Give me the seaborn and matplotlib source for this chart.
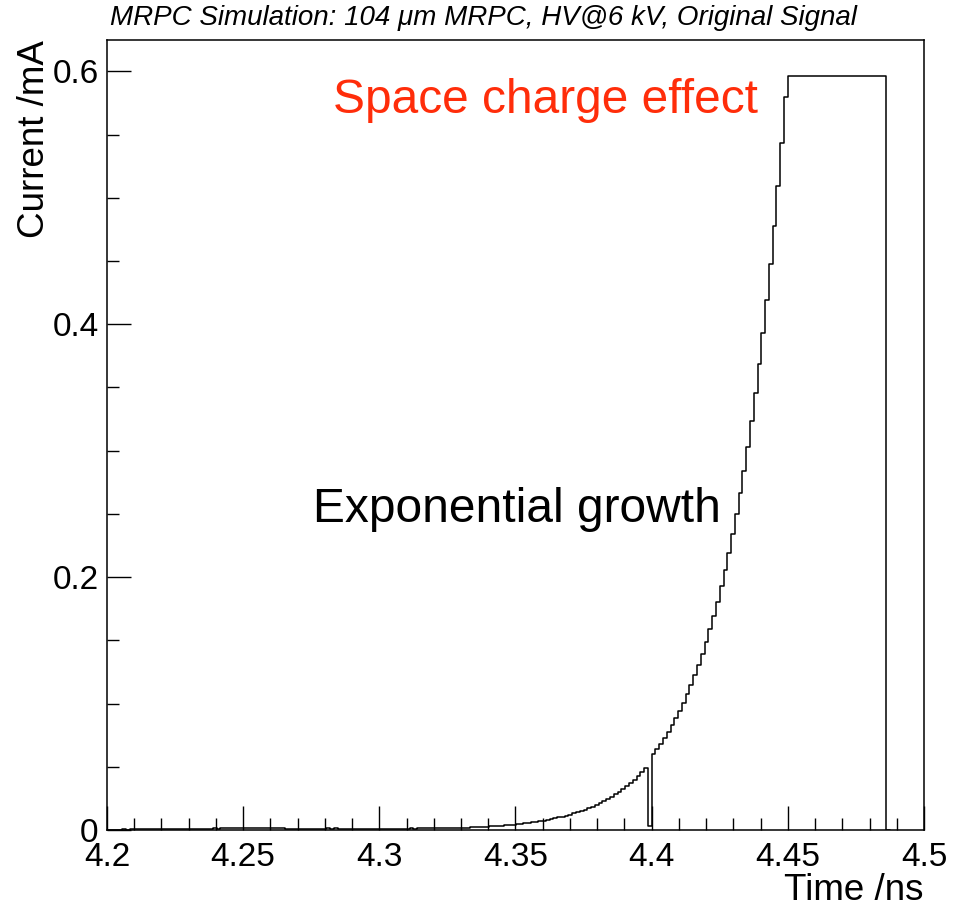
import numpy as np
import pandas as pd
import matplotlib
matplotlib.use("Agg")
import matplotlib.pyplot as plt
from matplotlib.ticker import MultipleLocator, FixedLocator, FixedFormatter
import seaborn as sns

# ---------------- data ----------------
t_start = 4.2                 # ns, first bin edge
bin_width = 0.05 / 36         # ns, histogram bin width

# bins 4.200 - 4.328 ns : near-zero pedestal
current_low = [
    0.0002, 0.0003, 0.0002, 0.0003, 0.0004, 0.0003, 0.0004, 0.0005,
    0.0004, 0.0005, 0.0006, 0.0005, 0.0006, 0.0007, 0.0006, 0.0007,
    0.0008, 0.0007, 0.0008, 0.0009, 0.0008, 0.0009, 0.0010, 0.0009,
    0.0010, 0.0011, 0.0010, 0.0011, 0.0012, 0.0011, 0.0012, 0.0013,
    0.0014, 0.0013, 0.0015, 0.0014, 0.0015, 0.0016, 0.0015, 0.0016,
    0.0015, 0.0014, 0.0015, 0.0014, 0.0013, 0.0014, 0.0012, 0.0011,
    0.0010, 0.0009, 0.0008, 0.0009, 0.0008, 0.0009, 0.0010, 0.0011,
    0.0010, 0.0011, 0.0012, 0.0011, 0.0012, 0.0011, 0.0010, 0.0009,
    0.0008, 0.0007, 0.0008, 0.0007, 0.0008, 0.0009, 0.0008, 0.0009,
    0.0008, 0.0009, 0.0010, 0.0009, 0.0010, 0.0011, 0.0010, 0.0011,
    0.0012, 0.0011, 0.0012, 0.0013, 0.0012, 0.0013, 0.0014, 0.0013,
    0.0014, 0.0015, 0.0014, 0.0015,
]
# bins 4.328 - 4.3986 ns : slow exponential rise
current_rise = [
    0.0015, 0.0016, 0.0017, 0.0019, 0.0020, 0.0021, 0.0023, 0.0025,
    0.0026, 0.0028, 0.0030, 0.0033, 0.0035, 0.0037, 0.0040, 0.0043,
    0.0046, 0.0049, 0.0053, 0.0057, 0.0061, 0.0065, 0.0070, 0.0075,
    0.0080, 0.0086, 0.0092, 0.0099, 0.0106, 0.0114, 0.0122, 0.0131,
    0.0140, 0.0150, 0.0161, 0.0173, 0.0185, 0.0199, 0.0213, 0.0228,
    0.0245, 0.0262, 0.0281, 0.0301, 0.0323, 0.0346, 0.0371, 0.0398,
    0.0426, 0.0457, 0.0490,
]
# single bin just before 4.40 ns
current_dip = [0.0030]
# bins 4.40 - 4.45 ns : exponential growth
current_fast = [
    0.0600, 0.0640, 0.0683, 0.0728, 0.0777, 0.0829, 0.0885, 0.0944,
    0.1007, 0.1075, 0.1147, 0.1223, 0.1305, 0.1393, 0.1486, 0.1586,
    0.1692, 0.1805, 0.1926, 0.2055, 0.2193, 0.2340, 0.2497, 0.2664,
    0.2842, 0.3033, 0.3236, 0.3453, 0.3684, 0.3931, 0.4194, 0.4475,
    0.4775, 0.5095, 0.5436, 0.5800,
]
# bins 4.45 - 4.486 ns : space-charge saturation plateau
current_plateau = [0.596] * 26
# after the pulse
current_after = [0.0]

x_ticks = [4.2, 4.25, 4.3, 4.35, 4.4, 4.45, 4.5]
x_tick_labels = ["4.2", "4.25", "4.3", "4.35", "4.4", "4.45", "4.5"]
y_ticks = [0.0, 0.2, 0.4, 0.6]
y_tick_labels = ["0", "0.2", "0.4", "0.6"]

title_text = "MRPC Simulation: 104 \u03bcm MRPC, HV@6 kV, Original Signal"
x_label = "Time /ns"
y_label = "Current /mA"
note_red = "Space charge effect"
note_black = "Exponential growth"

# ---------------- build table ----------------
current = np.array(current_low + current_rise + current_dip + current_fast
                   + current_plateau + current_after)
edges = (t_start + bin_width * np.arange(len(current) + 1)).tolist()
centers = [0.5 * (a + b) for a, b in zip(edges[:-1], edges[1:])]
df = pd.DataFrame({"time": centers, "current": current})

# ---------------- figure ----------------
sns.set_theme(style="white")
plt.rcParams["font.family"] = ["Liberation Sans", "DejaVu Sans"]
plt.rcParams["text.color"] = "black"
plt.rcParams["axes.labelcolor"] = "black"
plt.rcParams["xtick.color"] = "black"
plt.rcParams["ytick.color"] = "black"

fig = plt.figure(figsize=(9.57, 9.10), dpi=100)
ax = fig.add_axes([107 / 957, 1 - 830 / 910, (924 - 107) / 957, (830 - 40) / 910])

sns.histplot(data=df, x="time", weights="current", bins=edges,
             element="step", fill=False, color="black", linewidth=1.1, ax=ax)

ax.set_xlim(4.2, 4.5)
ax.set_ylim(0, 0.6248)

for s in ax.spines.values():
    s.set_color("black")
    s.set_linewidth(1.1)

ax.xaxis.set_major_locator(FixedLocator(x_ticks))
ax.xaxis.set_major_formatter(FixedFormatter(x_tick_labels))
ax.xaxis.set_minor_locator(MultipleLocator(0.01))
ax.yaxis.set_major_locator(FixedLocator(y_ticks))
ax.yaxis.set_major_formatter(FixedFormatter(y_tick_labels))
ax.yaxis.set_minor_locator(MultipleLocator(0.05))

ax.tick_params(axis="both", which="both", direction="in", color="black",
               labelcolor="black", width=1.0,
               bottom=True, left=True, top=False, right=False)
ax.tick_params(axis="both", which="major", length=17, labelsize=24)
ax.tick_params(axis="both", which="minor", length=8.5)
ax.tick_params(axis="x", which="major", pad=9)
ax.tick_params(axis="y", which="major", pad=6)

ax.set_xlabel(x_label, fontsize=26.5, loc="right", labelpad=0, color="black")
ax.set_ylabel(y_label, fontsize=26.5, loc="top", labelpad=0, color="black")

ax.text(4.283, 0.5673, note_red, color="#ff2d0a", fontsize=34.5,
        ha="left", va="baseline")
ax.text(4.2757, 0.2437, note_black, color="black", fontsize=34.5,
        ha="left", va="baseline")

fig.text(110 / 957, 1 - 18 / 910, title_text, fontsize=20, style="italic",
         ha="left", va="center", color="black")

fig.savefig("out.png", dpi=100)
